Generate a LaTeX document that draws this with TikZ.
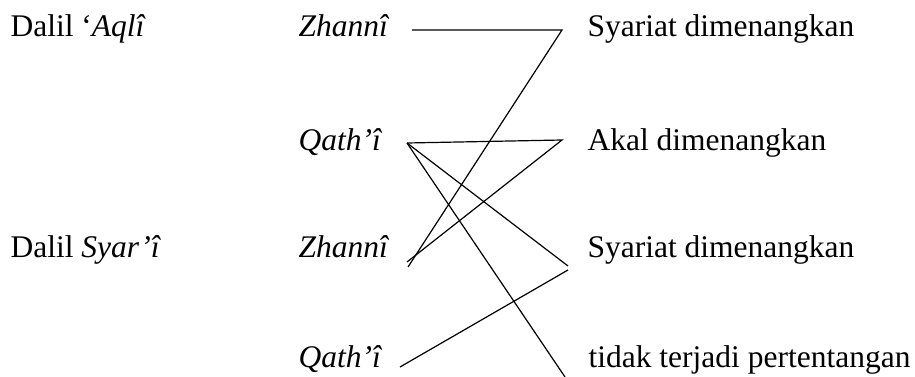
\documentclass[tikz,border=0pt]{standalone}
\usepackage{fontspec}
\setmainfont{Liberation Serif}
\usepackage{tikz}

\begin{document}
\begin{tikzpicture}[x=1pt, y=-1pt, line width=1.2pt,
  txt/.style={anchor=base west, inner sep=0pt, font=\fontsize{31.5}{36}\selectfont}]
  \useasboundingbox (0,0) rectangle (915,377);
  % left column
  \node[txt] (DA) at (10,37) {Dalil ‘\textit{Aqlî}};
  \node[txt] (DS) at (10,257) {Dalil \textit{Syar’î}};
  % middle column
  \node[txt] (Z1) at (298,37) {\textit{Zhannî}};
  \node[txt] (Q1) at (298,150) {\textit{Qath’î}};
  \node[txt] (Z2) at (298,257) {\textit{Zhannî}};
  \node[txt] (Q2) at (298,367) {\textit{Qath’î}};
  % right column
  \node[txt] (S1) at (587,37) {Syariat dimenangkan};
  \node[txt] (A1) at (587,150) {Akal dimenangkan};
  \node[txt] (S2) at (587,257) {Syariat dimenangkan};
  \node[txt] (T1) at (588,367) {tidak terjadi pertentangan};
  % line ends
  \coordinate (z1o) at (412,30);
  \coordinate (q1o) at (407,143);
  \coordinate (z2a) at (407,262);
  \coordinate (z2b) at (408,267);
  \coordinate (q2o) at (400,367);
  \coordinate (s1i) at (562,30);
  \coordinate (a1i) at (562,140);
  \coordinate (s2a) at (568,266);
  \coordinate (s2b) at (568,270);
  \coordinate (t1i) at (565,377);
  \draw (z1o) -- (s1i) -- (z2b);
  \draw (q1o) -- (a1i) -- (z2a);
  \draw (q1o) -- (s2a);
  \draw (q1o) -- (t1i);
  \draw (q2o) -- (s2b);
\end{tikzpicture}
\end{document}
